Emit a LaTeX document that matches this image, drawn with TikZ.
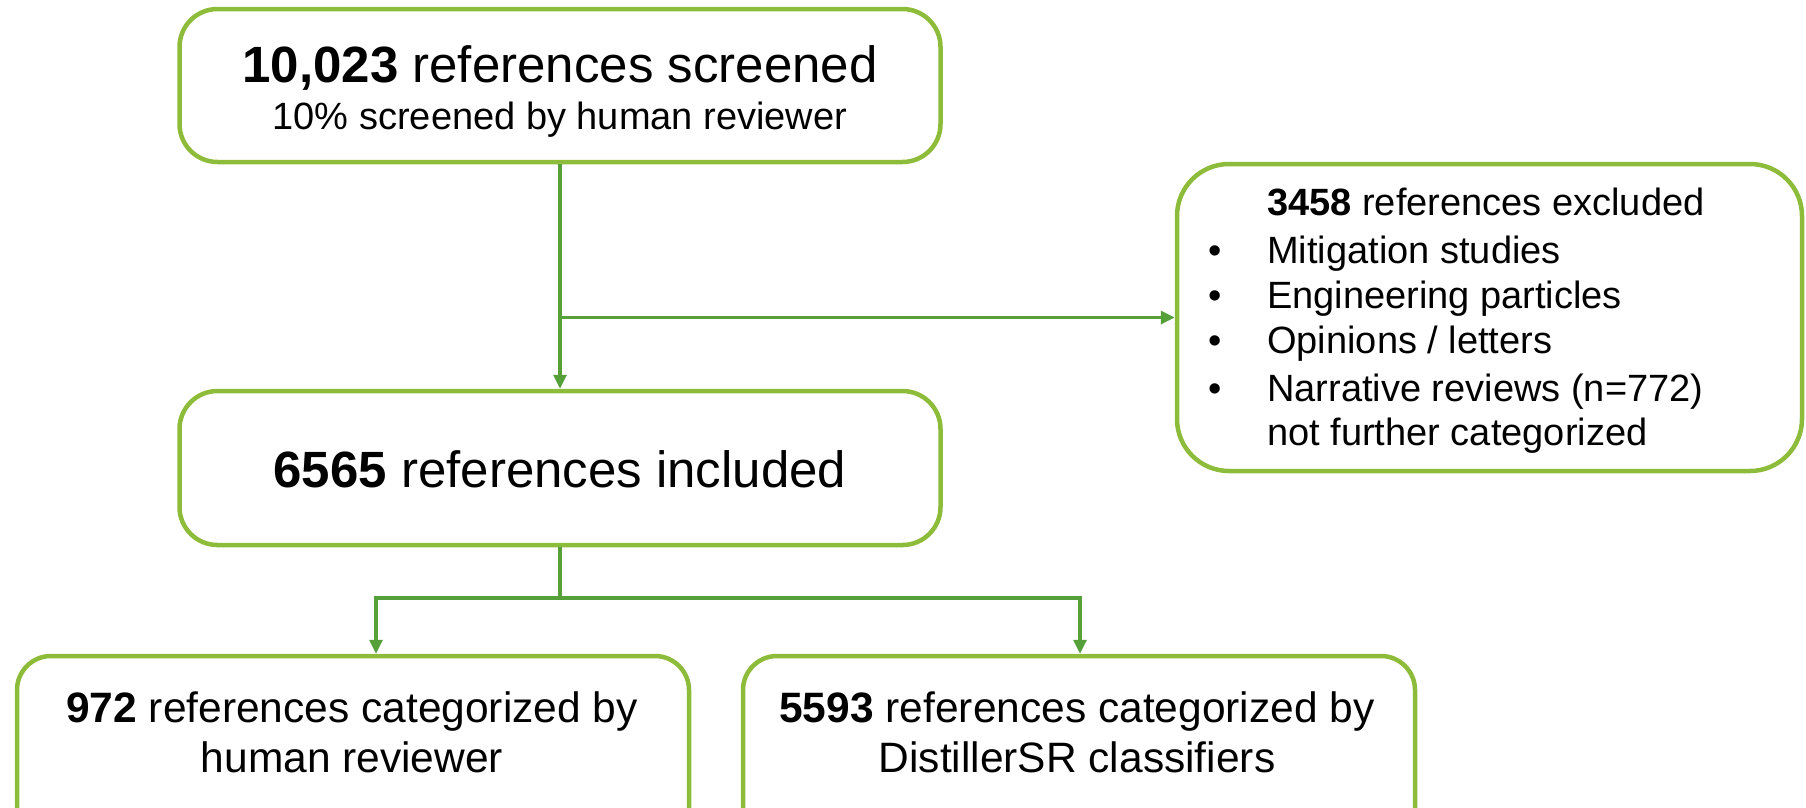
\documentclass[tikz,border=0pt]{standalone}
\usepackage{fontspec}
\setmainfont{Liberation Sans}
\usetikzlibrary{arrows.meta}
\definecolor{boxgreen}{RGB}{141,187,58}
\definecolor{linegreen}{RGB}{86,160,58}
\tikzset{
  box/.style={draw=boxgreen, line width=4.5pt, rounded corners=#1, rectangle, inner sep=0pt, fill=white},
  box/.default=38pt,
  conn/.style={draw=linegreen, line width=3.2pt},
  arr/.style={conn, -{Triangle[length=14pt,width=13pt]}},
  bigtxt/.style={font=\fontsize{51}{61}\selectfont, anchor=base, inner sep=0pt},
  midtxt/.style={font=\fontsize{38}{46}\selectfont, anchor=base, inner sep=0pt},
  lowtxt/.style={font=\fontsize{42.5}{50}\selectfont, anchor=base, inner sep=0pt},
}
\begin{document}
\begin{tikzpicture}[x=1pt,y=-1pt]
\useasboundingbox (0,0) rectangle (1806,807);
\clip (0,0) rectangle (1806,807);
% boxes
\node[box, minimum width=761pt, minimum height=153pt] (top) at (560,85.5) {};
\node[box, minimum width=761pt, minimum height=154pt] (mid) at (560,468) {};
\node[box=52pt, minimum width=625pt, minimum height=307pt] (right) at (1489.5,317.5) {};
\node[box=34pt, minimum width=672pt, minimum height=220pt] (bl) at (353,766) {};
\node[box=34pt, minimum width=672pt, minimum height=220pt] (br) at (1079,766) {};
% texts
\node[bigtxt] (t1) at (560,82) {\textbf{10,023} references screened};
\node[midtxt] (t2) at (560,129) {10\% screened by human reviewer};
\node[bigtxt] (m1) at (560,487) {\textbf{6565} references included};
\node[midtxt, anchor=base west] (r0) at (1267,215) {\textbf{3458} references excluded};
\node[midtxt, anchor=base west] (r1) at (1267,263) {Mitigation studies};
\node[midtxt, anchor=base west] (r2) at (1267,308) {Engineering particles};
\node[midtxt, anchor=base west] (r3) at (1267,353) {Opinions / letters};
\node[midtxt, anchor=base west] (r4) at (1267,401) {Narrative reviews (n=772)};
\node[midtxt, anchor=base west] (r5) at (1267,445) {not further categorized};
\foreach \y/\n in {263/b1,308/b2,353/b3,401/b4}{
  \node[midtxt] (\n) at (1215,\y) {•};
}
\node[lowtxt] (l1) at (352,722) {\textbf{972} references categorized by};
\node[lowtxt] (l2) at (352,772) {human reviewer};
\node[lowtxt] (q1) at (1077,722) {\textbf{5593} references categorized by};
\node[lowtxt] (q2) at (1077,772) {DistillerSR classifiers};
% connectors
\coordinate (split) at (560,317.5);
\coordinate (jl) at (376,598);
\coordinate (jr) at (1080,598);
\draw[arr] (top.south) -- (mid.north);
\draw[arr] (split) -- (right.west);
\draw[conn] (mid.south) -- (mid.south |- jl);
\draw[conn, line cap=rect] (jl) -- (jr);
\draw[arr] (jl) -- (jl |- bl.north);
\draw[arr] (jr) -- (jr |- br.north);
\end{tikzpicture}
\end{document}
